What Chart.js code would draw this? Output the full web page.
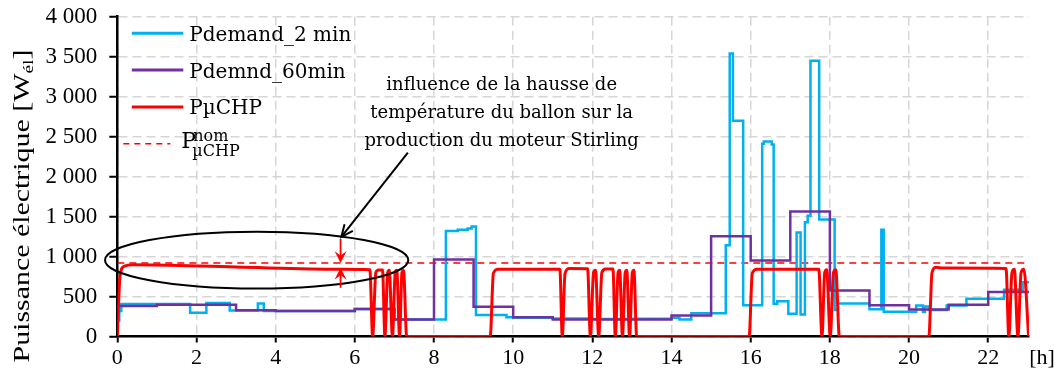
<!DOCTYPE html>
<html>
<head>
<meta charset="utf-8">
<script src="https://cdn.jsdelivr.net/npm/chart.js@4.4.1/dist/chart.umd.min.js"></script>
<style>
  html, body { margin: 0; padding: 0; background: #ffffff; }
  #wrap { width: 1054px; height: 378px; }
</style>
</head>
<body>
<div id="wrap"><canvas id="chart" width="1054" height="378"></canvas></div>
<script>
// ---- Axes ----------------------------------------------------------------
const hourTicks = [0, 2, 4, 6, 8, 10, 12, 14, 16, 18, 20, 22];
const xEnd = 23.03;                      // end of the simulated day [h]
const yMax = 4000;
const yStep = 500;

// ---- Pdemand_2 min : demand sampled every 2 minutes (level held from each time) ----
const demand2T = [0, 0.05, 0.1, 1.84, 2.25, 2.84, 3.55, 3.7, 4.0, 6.0, 7.0, 8.3, 8.6, 8.85, 8.95,
  9.06, 9.83, 10.0, 11.0, 12.0, 13.0, 14.0, 14.2, 14.5, 15.37, 15.47, 15.55, 15.81, 16.29, 16.33,
  16.53, 16.58, 16.67, 16.95, 17.16, 17.26, 17.37, 17.44, 17.51, 17.73, 18.12, 18.2, 19.0, 19.3,
  19.36, 20.18, 20.35, 20.4, 20.5, 20.95, 21.45, 22.4, 22.87, 23.03];
const demand2P = [200, 320, 405, 298, 420, 325, 412, 320, 318, 345, 214, 1320, 1335, 1350, 1375,
  268, 242, 233, 224, 218, 222, 236, 212, 290, 1140, 3540, 2700, 390, 2410, 2440,
  2400, 410, 440, 283, 1300, 275, 1430, 1510, 3450, 1462, 330, 412, 340, 1335,
  310, 388, 310, 375, 333, 388, 471, 584, 679, 679];

// ---- Pdemnd_60min : hourly mean demand ----
const demand60T = [0, 1, 2, 3, 4, 5, 6, 7, 8, 9, 10, 11, 12, 13, 14, 15, 16, 17, 18, 19, 20, 21, 22, 23.03];
const demand60P = [380, 398, 398, 328, 320, 320, 343, 214, 962, 372, 241, 214, 214, 214, 262,
  1255, 952, 1565, 576, 390, 338, 398, 556, 556];

// ---- PµCHP : electrical output of the Stirling engine ----
const chpT = [0, 0.07, 0.18, 0.4, 3.0, 5.64, 6.38, 6.45, 6.53, 6.6, 6.7, 6.76, 6.83, 6.87, 6.95,
  7.02, 7.06, 7.13, 7.19, 7.23, 7.31, 9.42, 9.5, 9.62, 11.18, 11.24, 11.31, 11.42, 11.88, 11.95,
  12.03, 12.08, 12.16, 12.24, 12.33, 12.52, 12.58, 12.65, 12.69, 12.76, 12.83, 12.87, 12.94,
  13.01, 13.05, 13.12, 15.96, 16.04, 16.16, 17.72, 17.8, 17.87, 17.92, 18.01, 18.09, 18.15,
  18.24, 20.5, 20.58, 20.68, 20.85, 22.45, 22.52, 22.6, 22.66, 22.75, 22.83, 22.9, 23.02];
const chpP = [0, 760, 880, 897, 868, 842, 836, 0, 800, 832, 832, 0, 800, 830, 0,
  800, 828, 0, 800, 825, 0, 0, 790, 842, 842, 0, 790, 850, 848, 0,
  800, 830, 0, 800, 845, 845, 0, 800, 830, 0, 800, 830, 0,
  800, 830, 0, 0, 790, 842, 842, 0, 800, 835, 0, 800, 835,
  0, 0, 800, 866, 856, 852, 0, 800, 840, 0, 800, 840, 0];

// ---- Nominal electrical power of the µCHP ----
const nominalP = 920;

// ---- Colours ----
const cDemand2 = '#00B0F0';
const cDemand60 = '#7030A0';
const cChp = '#FF0000';

const serifTimes = '"Liberation Serif", "Times New Roman", serif';
const serifText = '"DejaVu Serif", serif';

const pts = (ts, vs) => ts.map((t, i) => ({ x: t, y: vs[i] }));
const fmtThousands = v => String(v).replace(/\B(?=(\d{3})+(?!\d))/g, ' ');

// Callout placed in data coordinates (hours, watts)
const callout = {
  lines: ['influence de la hausse de', 'température du ballon sur la', 'production du moteur Stirling'],
  textAt: { x: 9.71, y: 3080 }, lineGap: 27.7,
  arrowFrom: { x: 7.34, y: 2300 }, arrowTo: { x: 5.66, y: 1247 },
  ellipse: { x: 3.52, y: 955, rx: 3.83, ry: 355 },
  gapAt: 5.64
};

function drawStealth(ctx, tipX, tipY, dir, len, half) {
  // dir: +1 pointing down, -1 pointing up
  ctx.beginPath();
  ctx.moveTo(tipX, tipY);
  ctx.lineTo(tipX - half, tipY - dir * len);
  ctx.lineTo(tipX, tipY - dir * len * 0.6);
  ctx.lineTo(tipX + half, tipY - dir * len);
  ctx.closePath();
  ctx.fill();
}

const overlay = {
  id: 'overlay',
  afterDatasetsDraw(chart) {
    const { ctx, chartArea: ca, scales: { x, y } } = chart;
    ctx.save();

    // ---- legend ----
    const rowY = i => ca.top + 16.6 + i * 36.8;
    const sets = chart.data.datasets;
    ctx.font = '20px ' + serifText;
    ctx.textBaseline = 'alphabetic';
    ctx.textAlign = 'left';
    for (let i = 0; i < 3; i++) {
      const ry = rowY(i);
      ctx.strokeStyle = sets[i].borderColor;
      ctx.lineWidth = 3;
      ctx.setLineDash([]);
      ctx.beginPath();
      ctx.moveTo(ca.left + 14.5, ry);
      ctx.lineTo(ca.left + 66, ry);
      ctx.stroke();
      ctx.fillStyle = '#000';
      ctx.fillText(sets[i].label, ca.left + 72, ry + 7.4);
    }
    {
      const ry = rowY(3);
      ctx.strokeStyle = cChp;
      ctx.lineWidth = 1.6;
      ctx.setLineDash([6, 5]);
      ctx.beginPath();
      ctx.moveTo(ca.left + 6, ry);
      ctx.lineTo(ca.left + 53, ry);
      ctx.stroke();
      ctx.setLineDash([]);
      ctx.fillStyle = '#000';
      ctx.font = '22px ' + serifText;
      ctx.fillText('P', ca.left + 64, ry + 4.6);
      ctx.font = '16px ' + serifText;
      ctx.fillText('nom', ca.left + 76, ry - 2.8);
      ctx.fillText('µCHP', ca.left + 75, ry + 12);
    }

    // ---- callout text ----
    ctx.font = '18px ' + serifText;
    ctx.textAlign = 'center';
    ctx.fillStyle = '#000';
    const tx = x.getPixelForValue(callout.textAt.x);
    const ty = y.getPixelForValue(callout.textAt.y);
    callout.lines.forEach((s, i) => ctx.fillText(s, tx, ty + i * callout.lineGap));

    // ---- ellipse around the plateau ----
    const ex = x.getPixelForValue(callout.ellipse.x);
    const ey = y.getPixelForValue(callout.ellipse.y);
    const erx = x.getPixelForValue(callout.ellipse.x + callout.ellipse.rx) - ex;
    const ery = ey - y.getPixelForValue(callout.ellipse.y + callout.ellipse.ry);
    ctx.strokeStyle = '#000';
    ctx.lineWidth = 2;
    ctx.beginPath();
    ctx.ellipse(ex, ey, erx, ery, 0, 0, Math.PI * 2);
    ctx.stroke();

    // ---- black pointer arrow ----
    const ax0 = x.getPixelForValue(callout.arrowFrom.x), ay0 = y.getPixelForValue(callout.arrowFrom.y);
    const ax1 = x.getPixelForValue(callout.arrowTo.x), ay1 = y.getPixelForValue(callout.arrowTo.y);
    ctx.beginPath();
    ctx.moveTo(ax0, ay0);
    ctx.lineTo(ax1, ay1);
    ctx.stroke();
    const ang = Math.atan2(ay1 - ay0, ax1 - ax0);
    const hl = 13, ha = 0.42;
    ctx.beginPath();
    ctx.moveTo(ax1 - hl * Math.cos(ang - ha), ay1 - hl * Math.sin(ang - ha));
    ctx.lineTo(ax1, ay1);
    ctx.lineTo(ax1 - hl * Math.cos(ang + ha), ay1 - hl * Math.sin(ang + ha));
    ctx.stroke();

    // ---- red gap arrows between nominal and actual output ----
    const gx = x.getPixelForValue(callout.gapAt);
    const yNom = y.getPixelForValue(nominalP);
    const yAct = y.getPixelForValue(842) - 1.5;
    ctx.strokeStyle = cChp;
    ctx.fillStyle = cChp;
    ctx.lineWidth = 1.8;
    ctx.beginPath();
    ctx.moveTo(gx, yNom - 24);
    ctx.lineTo(gx, yNom - 4);
    ctx.moveTo(gx, yAct + 4);
    ctx.lineTo(gx, yAct + 20);
    ctx.stroke();
    drawStealth(ctx, gx, yNom, 1, 12, 6);
    drawStealth(ctx, gx, yAct, -1, 12, 6);

    ctx.restore();
  },
  afterDraw(chart) {
    const { ctx, chartArea: ca, scales: { x } } = chart;
    ctx.save();
    // y-axis title with subscript
    ctx.translate(29, 206);
    ctx.rotate(-Math.PI / 2);
    ctx.scale(1.3, 1);
    ctx.fillStyle = '#000';
    ctx.textBaseline = 'alphabetic';
    ctx.textAlign = 'left';
    const main = 'Puissance électrique [W', sub = 'él', end = ']';
    ctx.font = '23px ' + serifTimes;
    const wMain = ctx.measureText(main).width, wEnd = ctx.measureText(end).width;
    ctx.font = '15px ' + serifTimes;
    const wSub = ctx.measureText(sub).width;
    let px = -(wMain + wSub + wEnd) / 2;
    ctx.font = '23px ' + serifTimes;
    ctx.fillText(main, px, 0);
    px += wMain;
    ctx.font = '15px ' + serifTimes;
    ctx.fillText(sub, px, 4);
    px += wSub;
    ctx.font = '23px ' + serifTimes;
    ctx.fillText(end, px, 0);
    ctx.restore();

    // unit of the time axis
    ctx.save();
    ctx.font = '22px ' + serifTimes;
    ctx.fillStyle = '#000';
    ctx.textAlign = 'center';
    ctx.textBaseline = 'middle';
    ctx.fillText('[h]', ca.right + 13, x.top + 6 + 3 + 22 * 1.2 / 2);
    ctx.restore();
  }
};

new Chart(document.getElementById('chart'), {
  type: 'line',
  data: {
    datasets: [
      { label: 'Pdemand_2 min', data: pts(demand2T, demand2P), borderColor: cDemand2, borderWidth: 2.5,
        stepped: 'before', pointRadius: 0, order: 2 },
      { label: 'Pdemnd_60min', data: pts(demand60T, demand60P), borderColor: cDemand60, borderWidth: 2.5,
        stepped: 'before', pointRadius: 0, order: 1 },
      { label: 'PµCHP', data: pts(chpT, chpP), borderColor: cChp, borderWidth: 3,
        cubicInterpolationMode: 'monotone', pointRadius: 0, order: 0 },
      { label: 'P nom µCHP', data: [{ x: 0, y: nominalP }, { x: xEnd, y: nominalP }], borderColor: cChp,
        borderWidth: 1.6, borderDash: [7, 5], pointRadius: 0, order: 3 }
    ]
  },
  options: {
    responsive: false,
    animation: false,
    devicePixelRatio: 1,
    events: [],
    layout: { padding: { top: 16.7, right: 25, bottom: 0, left: 0 } },
    plugins: { legend: { display: false }, tooltip: { enabled: false } },
    scales: {
      x: {
        type: 'linear', min: 0, max: xEnd,
        afterBuildTicks: s => { s.ticks = hourTicks.map(v => ({ value: v })); },
        afterFit: s => { s.height = 41.5; },
        ticks: { font: { family: serifTimes, size: 22 }, color: '#000', padding: 3,
          maxRotation: 0, autoSkip: false, callback: v => String(v) },
        grid: { color: '#d6d6d6', lineWidth: 1.5, tickColor: '#000', tickWidth: 2, tickLength: 6 },
        border: { color: '#000', width: 2.5, dash: [9, 5] }
      },
      y: {
        min: 0, max: yMax,
        afterFit: s => { s.width = 117.3; s.paddingTop = 0; s.paddingBottom = 0; },
        ticks: { stepSize: yStep, font: { family: serifTimes, size: 23 }, color: '#000', padding: 12,
          callback: v => fmtThousands(v) },
        grid: { color: '#d6d6d6', lineWidth: 1.5, tickColor: '#000', tickWidth: 2, tickLength: 8 },
        border: { color: '#000', width: 2.5, dash: [9, 5] }
      }
    }
  },
  plugins: [overlay]
});
</script>
</body>
</html>
